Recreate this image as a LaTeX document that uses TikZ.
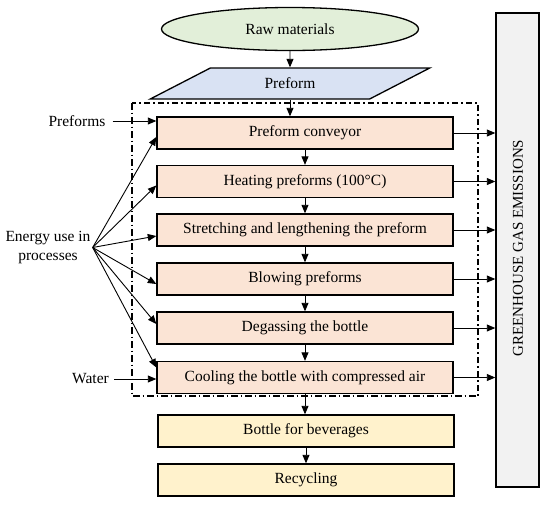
\documentclass[tikz,border=0pt]{standalone}
\usepackage{fontspec}
\setmainfont{Liberation Serif}
\usetikzlibrary{shapes.geometric,arrows.meta,calc}
\definecolor{grn}{HTML}{E2EFD9}
\definecolor{blu}{HTML}{D9E2F3}
\definecolor{pnk}{HTML}{FBE4D5}
\definecolor{ylw}{HTML}{FFF2CC}
\definecolor{gry}{HTML}{F2F2F2}
\begin{document}
\begin{tikzpicture}[x=1pt,y=-1pt,
 every node/.style={font=\fontsize{15.5}{19}\selectfont, inner sep=0pt},
 proc/.style={draw, line width=1.4pt, fill=pnk, minimum width=296pt, minimum height=32pt},
 outbox/.style={draw, line width=1.4pt, fill=ylw, minimum width=296pt, minimum height=32pt},
 ell/.style={ellipse, draw, line width=1.3pt, fill=grn, minimum width=257pt, minimum height=43pt},
 para/.style={trapezium, trapezium left angle=30, trapezium right angle=150, trapezium stretches=true, draw, line width=1.3pt, fill=blu, minimum width=280pt, minimum height=31pt},
 arr/.style={-{Triangle[length=8.5pt,width=7pt]}, line width=0.9pt},
 lab/.style={align=center}]
\useasboundingbox (0,0) rectangle (550,507);
% greenhouse box
\node[draw, line width=1.4pt, fill=gry, minimum width=43pt, minimum height=474pt] (ghg) at (517.5,250) {};
\node[rotate=90, font=\fontsize{15}{18}\selectfont] (ghgt) at (518,248) {GREENHOUSE GAS EMISSIONS};
% dash-dot boundary
\draw[line width=1.3pt, dash pattern=on 6.5pt off 3pt on 1.5pt off 3pt] (132,103) rectangle (478,396);
% main chain
\node[ell] (raw) at (290,29) {Raw materials};
\node[para] (pre) at (290,83.5) {Preform};
\node[proc] (b1) at (305,133) {Preform conveyor};
\node[proc] (b2) at (305,181.5) {Heating preforms (100°C)};
\node[proc] (b3) at (305,230) {Stretching and lengthening the preform};
\node[proc] (b4) at (305,279) {Blowing preforms};
\node[proc] (b5) at (305,328) {Degassing the bottle};
\node[proc] (b6) at (305,377.5) {Cooling the bottle with compressed air};
\node[outbox] (y1) at (306,431) {Bottle for beverages};
\node[outbox] (y2) at (306,480) {Recycling};
% left labels
\node (lpre) at (77,121) {Preforms};
\node[lab] (en) at (48,247.5) {Energy use in\\processes};
\node (wat) at (90.5,379) {Water};
\coordinate (es) at ($(en.east)+(2,0)$);
% vertical arrows
\draw[arr] (raw.south) -- (pre.north);
\draw[arr] (pre.south) -- (pre.south |- b1.north);
\draw[arr] (b1.south) -- (b2.north);
\draw[arr] (b2.south) -- (b3.north);
\draw[arr] (b3.south) -- (b4.north);
\draw[arr] (b4.south) -- (b5.north);
\draw[arr] (b5.south) -- (b6.north);
\draw[arr] (b6.south) -- (b6.south |- y1.north);
\draw[arr] (y1.south) -- (y1.south |- y2.north);
% inputs
\draw[arr] ($(lpre.east)+(7,0)$) -- (lpre.east -| b1.west);
\draw[arr] ($(wat.east)+(5,0)$) -- (wat.east -| b6.west);
\draw[arr] (es) -- ($(b1.west)+(0,4)$);
\draw[arr] (es) -- ($(b2.west)+(0,4)$);
\draw[arr] (es) -- ($(b3.west)+(0,6)$);
\draw[arr] (es) -- ($(b4.west)+(0,5)$);
\draw[arr] (es) -- ($(b5.west)+(0,-4)$);
\draw[arr] (es) -- ($(b6.west)+(0,-10)$);
% emissions
\foreach \b in {b1,b2,b3,b4,b5,b6}{
  \draw[arr] (\b.east) -- (\b.east -| ghg.west);
}
\end{tikzpicture}
\end{document}
